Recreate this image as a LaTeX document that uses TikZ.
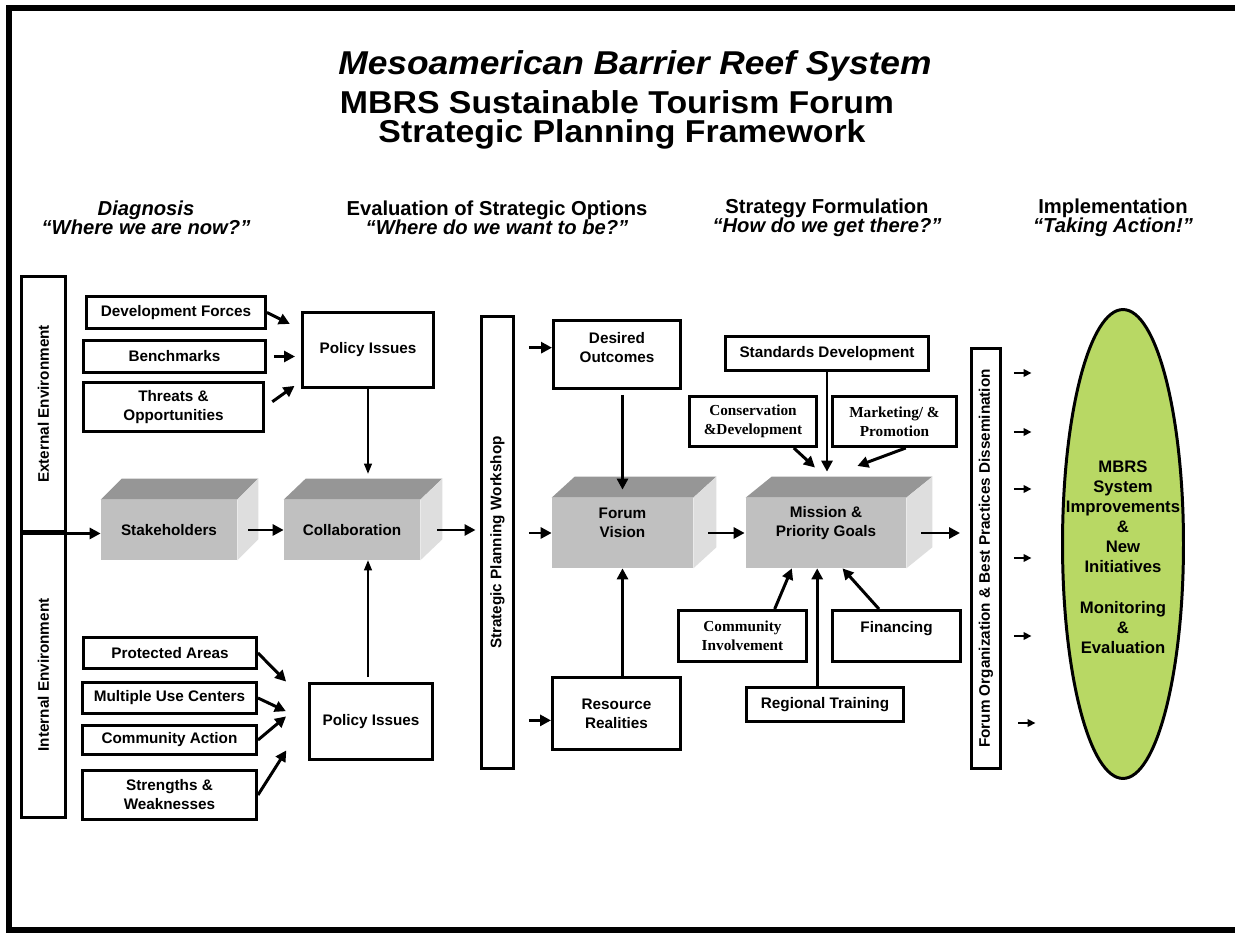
\documentclass[tikz,border=0pt]{standalone}
\usepackage{fontspec}
\setmainfont{Liberation Sans}
\newfontfamily\timesbox{Liberation Serif}
\newfontfamily\titlefont{Liberation Sans}[FakeStretch=1.07]
\usetikzlibrary{arrows.meta,shapes.geometric}

\definecolor{frontgray}{RGB}{192,192,192}
\definecolor{topgray}{RGB}{150,150,150}
\definecolor{sidegray}{RGB}{222,222,222}
\definecolor{reefgreen}{RGB}{184,216,100}

% top and side faces of a grey block: name, depth x, depth y
\newcommand{\boxfaces}[3]{%
  \fill[topgray] (#1.north west) -- ++(#2,-#3) -- ([shift={(#2,-#3)}]#1.north east) -- (#1.north east) -- cycle;
  \fill[sidegray] (#1.north east) -- ++(#2,-#3) -- ([shift={(#2,-#3)}]#1.south east) -- (#1.south east) -- cycle;
}

\tikzset{%
  >={Triangle[width=2.2mm,length=2.2mm]},
  % Specifications for style of nodes:
            base/.style = {rectangle, draw=black, line width=1.7pt,
                           align=center, inner sep=1pt,
                           font=\fontsize{8.7}{10.8}\selectfont\bfseries},
        serifbox/.style = {base, font=\fontsize{8.7}{10.8}\selectfont\timesbox\bfseries},
           block/.style = {rectangle, fill=frontgray, align=center, inner sep=1pt,
                           font=\fontsize{8.7}{10.8}\selectfont\bfseries},
            oval/.style = {ellipse, draw=black, line width=1.7pt, fill=reefgreen,
                           inner sep=0pt},
          header/.style = {align=center, font=\fontsize{11.5}{10.8}\selectfont\bfseries},
       titletext/.style = {inner sep=0pt, font=\fontsize{18}{20}\selectfont\titlefont\bfseries},
          lifted/.style = {text depth=#1},
  % Specifications for style of connectors:
            link/.style = {->, line width=1.7pt},
        thinlink/.style = {-{Triangle[width=1.6mm,length=2mm]}, line width=0.6pt},
       smalllink/.style = {-{Triangle[width=1.5mm,length=1.6mm]}, line width=1.2pt},
       pageframe/.style = {line width=3pt},
}

\begin{document}
\begin{tikzpicture}[x=0.02cm, y=-0.02cm]
  \useasboundingbox (0,0) rectangle (1235,935);
  \draw[pageframe] (1235,8) -- (9,8) -- (9,930) -- (1235,930);

  % Titles and column headers
  \node (title1) at (635,66)  [titletext, font=\fontsize{18.8}{20}\selectfont\titlefont\bfseries\itshape] {Mesoamerican Barrier Reef System};
  \node (title2) at (617,102) [titletext] {MBRS Sustainable Tourism Forum};
  \node (title3) at (622,134) [titletext] {Strategic Planning Framework};

  \node (diag)  at (146,217.5)  [header, font=\fontsize{11.5}{10.8}\selectfont\bfseries\itshape] {Diagnosis\\“Where we are now?”};
  \node (eval)  at (497,217.5)  [header] {Evaluation of Strategic Options\\\textit{“Where do we want to be?”}};
  \node (strat) at (827,217.5)  [header] {Strategy Formulation\\\textit{“How do we get there?”}};
  \node (impl)  at (1113,217.5) [header] {Implementation\\\textit{“Taking Action!”}};

  % Specification of nodes (position, etc.)
  \node (ext)      at (43.5,404)   [base, minimum width=0.88cm, minimum height=5.12cm] {\rotatebox{90}{External Environment}};
  \node (int)      at (43.5,675)   [base, minimum width=0.88cm, minimum height=5.72cm] {\rotatebox{90}{Internal Environment}};

  \node (dev)      at (176,312.5)  [base, minimum width=3.58cm, minimum height=0.64cm] {Development Forces};
  \node (bench)    at (174.5,356.5) [base, minimum width=3.64cm, minimum height=0.64cm] {Benchmarks};
  \node (threat)   at (173.5,407)  [base, minimum width=3.60cm, minimum height=0.98cm] {Threats \&\\Opportunities};
  \node (pol1)     at (368,350)    [base, minimum width=2.62cm, minimum height=1.50cm] {Policy Issues};

  \node (stake)    at (169,530)    [block, minimum width=2.72cm, minimum height=1.20cm] {Stakeholders};
  \node (collab)   at (352,530)    [block, minimum width=2.72cm, minimum height=1.20cm] {Collaboration};

  \node (prot)     at (170,653)    [base, minimum width=3.46cm, minimum height=0.62cm] {Protected Areas};
  \node (multi)    at (169.5,698)  [base, minimum width=3.48cm, minimum height=0.62cm] {Multiple Use Centers};
  \node (commact)  at (169.5,740)  [base, minimum width=3.48cm, minimum height=0.58cm] {Community Action};
  \node (strength) at (169.5,795)  [base, minimum width=3.48cm, minimum height=0.98cm] {Strengths \&\\Weaknesses};
  \node (pol2)     at (371,721.5)  [base, minimum width=2.48cm, minimum height=1.52cm] {Policy Issues};

  \node (workshop) at (497.5,542.5) [base, minimum width=0.64cm, minimum height=9.04cm] {\rotatebox{90}{Strategic Planning Workshop}};
  \node (desired)  at (617,354.5)  [base, lifted=0.28cm, minimum width=2.54cm, minimum height=1.36cm] {Desired\\Outcomes};
  \node (forum)    at (622.5,533)  [block, lifted=0.4cm, minimum width=2.82cm, minimum height=1.40cm] {Forum\\Vision};
  \node (resource) at (616.5,713.5) [base, minimum width=2.56cm, minimum height=1.44cm] {Resource\\Realities};

  \node (stdev)    at (827,353.5)  [base, minimum width=4.06cm, minimum height=0.68cm] {Standards Development};
  \node (cons)     at (753,421.5)  [serifbox, minimum width=2.54cm, minimum height=1.00cm] {Conservation\\\&Development};
  \node (mark)     at (894.5,421.5) [serifbox, minimum width=2.48cm, minimum height=1.00cm] {Marketing/ \&\\Promotion};
  \node (mission)  at (826,533)    [block, lifted=0.46cm, minimum width=3.20cm, minimum height=1.40cm] {Mission \&\\Priority Goals};
  \node (comminv)  at (742.5,636)  [serifbox, minimum width=2.56cm, minimum height=1.02cm] {Community\\Involvement};
  \node (financing) at (896.5,636) [base, lifted=0.38cm, minimum width=2.56cm, minimum height=1.02cm] {Financing};
  \node (regtrain) at (825,704.5)  [base, minimum width=3.14cm, minimum height=0.68cm] {Regional Training};

  \node (forumorg) at (986,558.5)  [base, minimum width=0.58cm, minimum height=8.40cm] {\rotatebox{90}{Forum Organization \& Best Practices Dissemination}};
  \node (oval)     at (1123,544)   [oval, minimum width=2.42cm, minimum height=9.38cm,
      label={[align=center, font=\fontsize{9.5}{11.4}\selectfont\bfseries, yshift=-0.27cm]center:{MBRS\\System\\Improvements\\\&\\New\\Initiatives\\[12pt]Monitoring\\\&\\Evaluation}}] {};

  % faces of the grey blocks
  \boxfaces{stake}{21}{21}
  \boxfaces{collab}{22}{21}
  \boxfaces{forum}{23}{21}
  \boxfaces{mission}{26}{21}

  % Specification of lines between nodes specified above
  \draw[link, shorten >=0.25cm] (dev.east) -- (pol1.163);
  \draw[link, shorten <=0.14cm, shorten >=0.12cm] (bench.east) -- (bench.east -| pol1.west);
  \draw[link, shorten <=0.18cm, shorten >=0.16cm] (threat.east) -- (pol1.205);
  \draw[thinlink, shorten >=0.52cm] (pol1.south) -- (pol1.south |- collab.north);
  \draw[thinlink, shorten <=0.1cm] (pol1.south |- pol2.north) -- (pol1.south |- collab.south);

  \draw[link, shorten >=0.61cm] (prot.east) -- (pol2.164);
  \draw[link, shorten >=0.48cm] (multi.east) -- (pol2.west);
  \draw[link, shorten >=0.56cm] (commact.east) -- (pol2.160);
  \draw[link, shorten >=0.79cm] (strength.east) -- (pol2.176);

  \draw[link] (ext.south west) -- (ext.south west -| stake.west);
  \draw[link] ([xshift=0.22cm]stake.east) -- (collab.west);
  \draw[link, shorten >=0.09cm] ([xshift=0.34cm]collab.east) -- (collab.east -| workshop.west);
  \draw[link, shorten <=0.28cm] (workshop.east |- desired.174) -- (desired.174);
  \draw[link, shorten <=0.28cm] (workshop.east |- forum.west) -- (forum.west);
  \draw[link, shorten <=0.28cm] (workshop.east |- resource.186) -- (resource.186);
  \draw[link, shorten <=0.1cm, shorten >=0.16cm] (forum.north |- desired.south) -- (forum.north);
  \draw[link] (forum.south |- resource.north) -- (forum.south);
  \draw[link, shorten >=0.02cm] ([xshift=0.3cm]forum.east) -- (mission.west);
  \draw[link, shorten >=0.2cm] ([xshift=0.3cm]mission.east) -- (mission.east -| forumorg.west);

  \coordinate (goals) at ([yshift=0.4cm]mission.north);
  \draw[link, shorten >=0.52cm] (stdev.south) -- (stdev.south |- mission.north);
  \draw[link, shorten >=0.3cm] (cons.-33) -- (goals);
  \draw[link, shorten >=0.67cm] (mark.-67) -- (goals);
  \draw[link] (comminv.40) -- (mission.226);
  \draw[link] (mission.256 |- regtrain.north) -- (mission.256);
  \draw[link] (financing.123) -- (mission.295);

  \draw[smalllink, shorten <=0.24cm, shorten >=0.59cm] (forumorg.east |- 0,373) -- (oval.west |- 0,373);
  \draw[smalllink, shorten <=0.24cm, shorten >=0.59cm] (forumorg.east |- 0,432) -- (oval.west |- 0,432);
  \draw[smalllink, shorten <=0.24cm, shorten >=0.59cm] (forumorg.east |- 0,489) -- (oval.west |- 0,489);
  \draw[smalllink, shorten <=0.24cm, shorten >=0.59cm] (forumorg.east |- 0,558) -- (oval.west |- 0,558);
  \draw[smalllink, shorten <=0.24cm, shorten >=0.59cm] (forumorg.east |- 0,636) -- (oval.west |- 0,636);
  \draw[smalllink, shorten <=0.33cm, shorten >=0.51cm] (forumorg.east |- 0,723) -- (oval.west |- 0,723);
\end{tikzpicture}
\end{document}
